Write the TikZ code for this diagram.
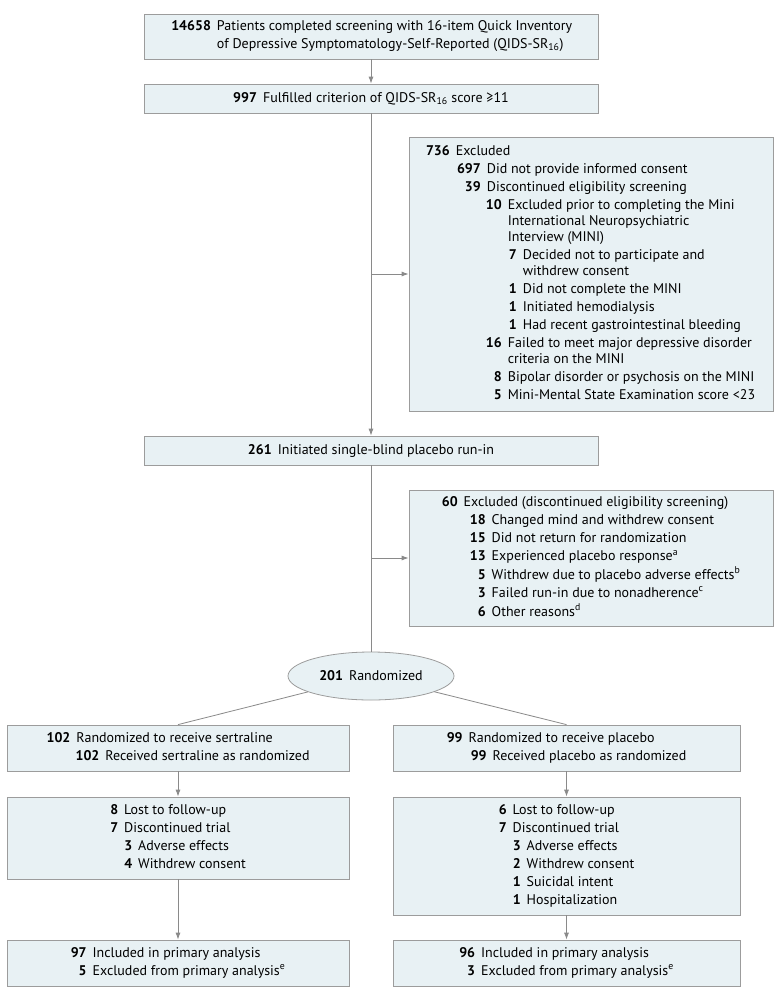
\documentclass[tikz,border=0pt]{standalone}
\usepackage{fontspec}
\setmainfont{PT Sans}
\usetikzlibrary{arrows.meta,shapes.geometric}

\definecolor{boxfill}{HTML}{E8F1F4}
\definecolor{boxline}{HTML}{9C9C9C}
\definecolor{arrline}{HTML}{8A8A8A}

% one row of a box: number right aligned before the text start
\newcommand{\ro}[3]{\makebox[#1][r]{\textbf{#2}\hspace{6pt}}#3}
% wrapped line of a row
\newcommand{\co}[2]{\hspace*{#1}#2}

\begin{document}
\begin{tikzpicture}[x=1pt,y=-1pt]

\tikzstyle{box}=[draw=boxline,fill=boxfill,line width=0.8pt,inner sep=0pt,font=\fontsize{14}{16}\selectfont]
\tikzstyle{conn}=[draw=arrline,line width=0.8pt,-{Latex[length=7pt,width=5pt]}]
\tikzstyle{ln}=[draw=arrline,line width=0.8pt]

\fill[white] (0,0) rectangle (783,999);
\useasboundingbox (0,0) rectangle (783,999);

\node[box,minimum width=454,minimum height=45] (screen) at (371,36.5) {\begin{tabular}{@{}l@{}}
\ro{47pt}{14658}{Patients completed screening with 16-item Quick Inventory}\\[2pt]
\co{47pt}{of Depressive Symptomatology-Self-Reported (QIDS-SR\textsubscript{16})}
\end{tabular}};
\node[box,minimum width=454,minimum height=29] (crit) at (371,98.5) {\textbf{997}\hspace{6pt}Fulfilled criterion of QIDS-SR\textsubscript{16} score ≥11};

\node[box,minimum width=364,minimum height=274] (excl1) at (591,274) {\begin{tabular}{@{}l@{}}
\ro{29pt}{736}{Excluded}\\[2pt]
\ro{60pt}{697}{Did not provide informed consent}\\[2pt]
\ro{60pt}{39}{Discontinued eligibility screening}\\[2pt]
\ro{81pt}{10}{Excluded prior to completing the Mini}\\
\co{81pt}{International Neuropsychiatric}\\
\co{81pt}{Interview (MINI)}\\[2pt]
\ro{96pt}{7}{Decided not to participate and}\\
\co{96pt}{withdrew consent}\\[2pt]
\ro{96pt}{1}{Did not complete the MINI}\\[2pt]
\ro{96pt}{1}{Initiated hemodialysis}\\[2pt]
\ro{96pt}{1}{Had recent gastrointestinal bleeding}\\[2pt]
\ro{81pt}{16}{Failed to meet major depressive disorder}\\
\co{81pt}{criteria on the MINI}\\[2pt]
\ro{81pt}{8}{Bipolar disorder or psychosis on the MINI}\\[2pt]
\ro{81pt}{5}{Mini-Mental State Examination score <23}
\end{tabular}};

\node[box,minimum width=454,minimum height=29] (runin) at (371,450.5) {\textbf{261}\hspace{6pt}Initiated single-blind placebo run-in};

\node[box,minimum width=364,minimum height=136] (excl2) at (591,558) {\begin{tabular}{@{}l@{}}
\ro{22pt}{60}{Excluded (discontinued eligibility screening)}\\[2pt]
\ro{50pt}{18}{Changed mind and withdrew consent}\\[2pt]
\ro{50pt}{15}{Did not return for randomization}\\[2pt]
\ro{50pt}{13}{Experienced placebo response\textsuperscript{a}}\\[2pt]
\ro{50pt}{5}{Withdrew due to placebo adverse effects\textsuperscript{b}}\\[2pt]
\ro{50pt}{3}{Failed run-in due to nonadherence\textsuperscript{c}}\\[2pt]
\ro{50pt}{6}{Other reasons\textsuperscript{d}}
\end{tabular}};

\node[box,ellipse,minimum width=166,minimum height=48] (rand) at (371,676) {\textbf{201}\hspace{6pt}Randomized};

\node[box,minimum width=342,minimum height=46] (sert) at (178,748) {\begin{tabular}{@{}l@{}}
\ro{30pt}{102}{Randomized to receive sertraline}\\[2pt]
\ro{59pt}{102}{Received sertraline as randomized}
\end{tabular}};
\node[box,minimum width=347,minimum height=46] (plac) at (566.5,748) {\begin{tabular}{@{}l@{}}
\ro{22pt}{99}{Randomized to receive placebo}\\[2pt]
\ro{46pt}{99}{Received placebo as randomized}
\end{tabular}};

\node[box,minimum width=342,minimum height=82] (lostS) at (178,838) {\begin{tabular}{@{}l@{}}
\ro{14pt}{8}{Lost to follow-up}\\[2pt]
\ro{14pt}{7}{Discontinued trial}\\[2pt]
\ro{28pt}{3}{Adverse effects}\\[2pt]
\ro{28pt}{4}{Withdrew consent}
\end{tabular}};
\node[box,minimum width=347,minimum height=118] (lostP) at (566.5,856) {\begin{tabular}{@{}l@{}}
\ro{14pt}{6}{Lost to follow-up}\\[2pt]
\ro{14pt}{7}{Discontinued trial}\\[2pt]
\ro{28pt}{3}{Adverse effects}\\[2pt]
\ro{28pt}{2}{Withdrew consent}\\[2pt]
\ro{28pt}{1}{Suicidal intent}\\[2pt]
\ro{28pt}{1}{Hospitalization}
\end{tabular}};

\node[box,minimum width=342,minimum height=46] (anaS) at (178,963) {\begin{tabular}{@{}l@{}}
\ro{22pt}{97}{Included in primary analysis}\\[2pt]
\ro{22pt}{5}{Excluded from primary analysis\textsuperscript{e}}
\end{tabular}};
\node[box,minimum width=347,minimum height=46] (anaP) at (566.5,963) {\begin{tabular}{@{}l@{}}
\ro{22pt}{96}{Included in primary analysis}\\[2pt]
\ro{22pt}{3}{Excluded from primary analysis\textsuperscript{e}}
\end{tabular}};

\draw[conn] (screen) -- (crit);
\draw[conn] (crit) -- (runin);
\draw[conn] (crit.south |- excl1.west) -- (excl1.west);
\draw[ln] (runin) -- (rand);
\draw[conn] (runin.south |- excl2.west) -- (excl2.west);
\draw[ln] (rand) -- (sert.north);
\draw[ln] (rand) -- (plac.north);
\draw[conn] (sert) -- (lostS);
\draw[conn] (lostS) -- (anaS);
\draw[conn] (plac) -- (lostP);
\draw[conn] (lostP) -- (anaP);

\end{tikzpicture}
\end{document}
